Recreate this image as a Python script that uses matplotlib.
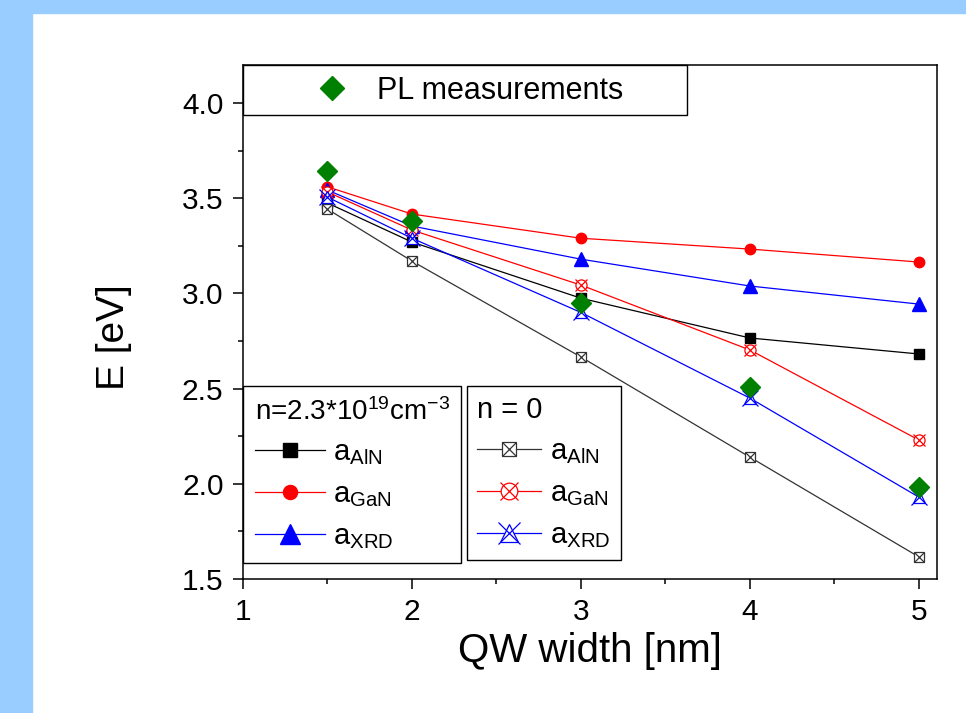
import numpy as np
from matplotlib import pyplot as plt
from matplotlib.patches import Rectangle
from matplotlib.legend_handler import HandlerTuple

plt.rcParams['font.family'] = ['Liberation Sans', 'DejaVu Sans']
plt.rcParams['mathtext.fontset'] = 'custom'
plt.rcParams['mathtext.rm'] = 'Liberation Sans'
plt.rcParams['mathtext.it'] = 'Liberation Sans:italic'
plt.rcParams['axes.unicode_minus'] = False

# данные
width = [1.5, 2, 3, 4, 5]
e_aln_doped = [3.475, 3.27, 2.975, 2.766, 2.682]
e_gan_doped = [3.56, 3.417, 3.29, 3.233, 3.165]
e_xrd_doped = [3.543, 3.354, 3.18, 3.039, 2.944]
e_aln_0 = [3.443, 3.17, 2.666, 2.14, 1.616]
e_gan_0 = [3.533, 3.333, 3.044, 2.703, 2.23]
e_xrd_0 = [3.506, 3.29, 2.90, 2.45, 1.93]
e_pl = [3.643, 3.38, 2.95, 2.508, 1.983]

fig = plt.figure(figsize=(9.66, 7.13), dpi=100)
W, H = 966, 713
fig.patches.append(Rectangle((0, 1 - 13 / H), 1, 13 / H, transform=fig.transFigure,
                             color='#99ccff', zorder=0))
fig.patches.append(Rectangle((0, 0), 32 / W, 1, transform=fig.transFigure,
                             color='#99ccff', zorder=0))

ax = fig.add_axes([243 / W, 1 - 579 / H, 694 / W, 514 / H])

lw = 0.9
l1, = ax.plot(width, e_aln_doped, color='black', lw=lw, marker='s', ms=7)
l2, = ax.plot(width, e_gan_doped, color='red', lw=lw, marker='o', ms=7.5)
l3, = ax.plot(width, e_xrd_doped, color='blue', lw=lw, marker='^', ms=10.5)

def open_series(y, color, shape, ms, xms):
    line, = ax.plot(width, y, color=color, lw=lw, marker=shape, ms=ms,
                    mfc='white', mec=color, mew=0.9)
    cross, = ax.plot(width, y, ls='none', marker='x', ms=xms, mec=color, mew=0.9)
    return (line, cross)

o1 = open_series(e_aln_0, '#333333', 's', 6.5, 6.5)
o2 = open_series(e_gan_0, 'red', 'o', 8, 8.5)
o3 = open_series(e_xrd_0, 'blue', '^', 8.5, 11)

pl, = ax.plot(width, e_pl, ls='none', marker='D', ms=10.5, color='#008000', zorder=5)

ax.set_xlim(1, 5.107)
ax.set_ylim(1.5, 4.2)
ax.set_xticks([1, 2, 3, 4, 5])
ax.set_xticks([1.5, 2.5, 3.5, 4.5], minor=True)
ax.set_yticks([1.5, 2.0, 2.5, 3.0, 3.5, 4.0])
ax.set_yticks([1.75, 2.25, 2.75, 3.25, 3.75], minor=True)
ax.set_yticklabels(['1.5', '2.0', '2.5', '3.0', '3.5', '4.0'])
ax.tick_params(which='both', direction='out', width=1.1, labelsize=21.5,
               top=False, right=False)
ax.tick_params(which='major', length=7, pad=7)
ax.tick_params(which='minor', length=3.6)
for s in ax.spines.values():
    s.set_linewidth(1.1)

ax.set_xlabel('QW width [nm]', fontsize=29)
ax.set_ylabel('E [eV]', fontsize=28)
ax.xaxis.set_label_coords(0.5, -0.103)
ax.yaxis.set_label_coords(-0.16, 0.47)

# верхняя рамка с PL
ax.add_patch(Rectangle((0, (579 - 115) / 514), 444 / 694, 50 / 514, transform=ax.transAxes,
                       facecolor='white', edgecolor='black', lw=1.0, clip_on=False, zorder=6))
leg0 = ax.legend([pl], ['PL measurements'], loc='center left', frameon=False,
                 bbox_to_anchor=(0.088, (579 - 91) / 514), borderaxespad=0,
                 fontsize=22, handlelength=1.0, handletextpad=1.0, markerscale=1.15)
leg0.set_zorder(7)
ax.add_artist(leg0)

sub = lambda s: r'a$_{\mathregular{%s}}$' % s
leg1 = ax.legend([l1, l2, l3], [sub('AlN'), sub('GaN'), sub('XRD')],
                 title=r'n=2.3*10$^{\mathregular{19}}$cm$^{\mathregular{-3}}$',
                 loc='lower left', bbox_to_anchor=(0, 16 / 514), borderaxespad=0,
                 fontsize=21, title_fontsize=20, alignment='left',
                 handlelength=2.4, handletextpad=0.3, labelspacing=0.45,
                 borderpad=0.4, markerscale=1.35, fancybox=False, framealpha=1,
                 edgecolor='black')
leg1.get_frame().set_linewidth(1.0)
ax.add_artist(leg1)

leg2 = ax.legend([o1, o2, o3], [sub('AlN'), sub('GaN'), sub('XRD')],
                 handler_map={tuple: HandlerTuple(ndivide=1)},
                 title='n = 0', loc='lower left', bbox_to_anchor=(224 / 694, 19 / 514),
                 borderaxespad=0, fontsize=21, title_fontsize=21, alignment='left',
                 handlelength=2.2, handletextpad=0.3, labelspacing=0.45,
                 borderpad=0.35, markerscale=1.5, fancybox=False, framealpha=1,
                 edgecolor='black')
leg2.get_frame().set_linewidth(1.0)

fig.savefig('out.png', dpi=100)
